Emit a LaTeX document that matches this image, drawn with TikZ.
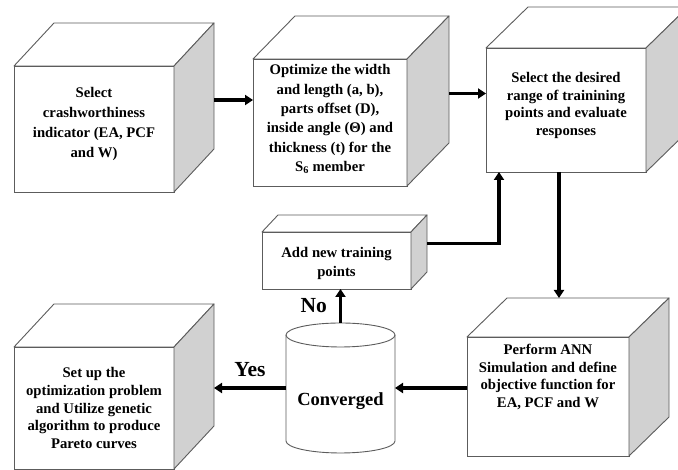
\documentclass[tikz,border=0pt]{standalone}
\usepackage{fontspec}
\setmainfont{Liberation Serif}
\usepackage{tikz}
\usetikzlibrary{backgrounds}
\usetikzlibrary{arrows.meta}
\usetikzlibrary{calc}
\definecolor{edgegray}{rgb}{0.36,0.36,0.36}
\definecolor{sidegray}{rgb}{0.82,0.82,0.82}

\begin{document}
\begin{tikzpicture}[
            x = 1pt, y = 1pt,
            > = {Triangle[length=8pt, width=10pt]}, % arrow head style
            semithick
        ]

        \tikzstyle{box}=[
            draw = edgegray,
            line width = 0.9pt,
            fill = white,
            outer sep = 0pt,
            inner sep = 0pt,
            align = center,
            font = \bfseries\fontsize{14.7}{18}\selectfont
        ]
        \tikzstyle{face}=[draw = edgegray, line width = 0.9pt, line join = round]
        \tikzstyle{link}=[->, line width = 3.2pt]
        \tikzstyle{answer}=[font = \bfseries\fontsize{21.5}{24}\selectfont, inner sep = 0pt]

        \useasboundingbox (0,0) rectangle (678,470);

	% first row
        \node[box, minimum width=160pt, minimum height=126pt, text depth=14pt,
              font=\bfseries\fontsize{14.7}{20}\selectfont] (sel) at (94,341)
            {Select\\crashworthiness\\indicator (EA, PCF\\and W)};
        \node[box, minimum width=154pt, minimum height=127pt, text depth=9pt,
              font=\bfseries\fontsize{14.7}{19.3}\selectfont] (opt) at (330,347.5)
            {Optimize the width\\and length (a, b),\\parts offset (D),\\inside angle (Θ) and\\thickness (t) for the\\S\textsubscript{6} member};
        \node[box, minimum width=160pt, minimum height=124pt, text depth=12pt,
              font=\bfseries\fontsize{14.7}{17.8}\selectfont] (rng) at (566,360)
            {Select the desired\\range of trainining\\points and evaluate\\responses};

        % loop back
        \node[box, minimum width=149pt, minimum height=57pt, text height=35pt,
              font=\bfseries\fontsize{14.7}{19}\selectfont] (add) at (336.5,209.5)
            {Add new training\\points};

        % second row
        \node[box, minimum width=162pt, minimum height=119pt, text depth=41pt,
              font=\bfseries\fontsize{14.7}{17.5}\selectfont] (ann) at (548,73.5)
            {Perform ANN\\Simulation and define\\objective function for\\EA, PCF and W};
        \node[box, minimum width=160pt, minimum height=122pt,
              font=\bfseries\fontsize{14.7}{17.7}\selectfont] (set) at (94,62)
            {Set up the\\optimization problem\\and Utilize genetic\\algorithm to produce\\Pareto curves};
        \node[inner sep=0pt, outer sep=0pt, minimum width=109pt, minimum height=130pt,
              text height=40pt, text depth=4pt,
              font=\bfseries\fontsize{18.5}{22}\selectfont] (conv) at (340.5,82) {Converged};

        % cube sides
        \foreach \n/\dx/\dy in {sel/40/43, opt/42/43, rng/42/41, add/16/17, ann/40/39, set/40/43} {
            \draw[face, fill=white] (\n.north west) -- ++(\dx,\dy) -- ($(\n.north east)+(\dx,\dy)$) -- (\n.north east) -- cycle;
            \draw[face, fill=sidegray] (\n.north east) -- ++(\dx,\dy) -- ($(\n.south east)+(\dx,\dy)$) -- (\n.south east) -- cycle;
            \coordinate (\n-r) at ($(\n.east)+(\dx,\dy)$);
            \coordinate (\n-t) at ($(\n.north)+(\dx,\dy)$);
        }

        \begin{scope}[on background layer]
        \draw[face, fill=white] ([yshift=-12pt]conv.north west) -- ([yshift=12pt]conv.south west)
            arc[start angle=180, end angle=360, x radius=54.5pt, y radius=12pt]
            -- ([yshift=-12pt]conv.north east)
            arc[start angle=0, end angle=180, x radius=54.5pt, y radius=12pt] -- cycle;
        \draw[face] ([yshift=-12pt]conv.north west)
            arc[start angle=180, end angle=360, x radius=54.5pt, y radius=12pt];
        \end{scope}

        % connectors
        \draw[link] ([yshift=-14pt]sel-r) -- ([yshift=-14pt]sel-r -| opt.west);
        \draw[link] ([yshift=-14pt]opt-r) -- ([yshift=-14pt]opt-r -| rng.west);
        \draw[link] ([xshift=-7pt]rng.south) -- ([xshift=-7pt]rng.south |- ann-t);
        \draw[link] (conv.east -| ann.west) -- (conv.east);
        \draw[link] (conv.west) -- (conv.west -| set-r) node[answer, midway, above=10pt] {Yes};
        \draw[link] (conv.north) -- (conv.north |- add.south) node[answer, midway, left=12pt] {No};
        \draw[link] (add-r) -| ([xshift=-67pt]rng.south);

\end{tikzpicture}
\end{document}
